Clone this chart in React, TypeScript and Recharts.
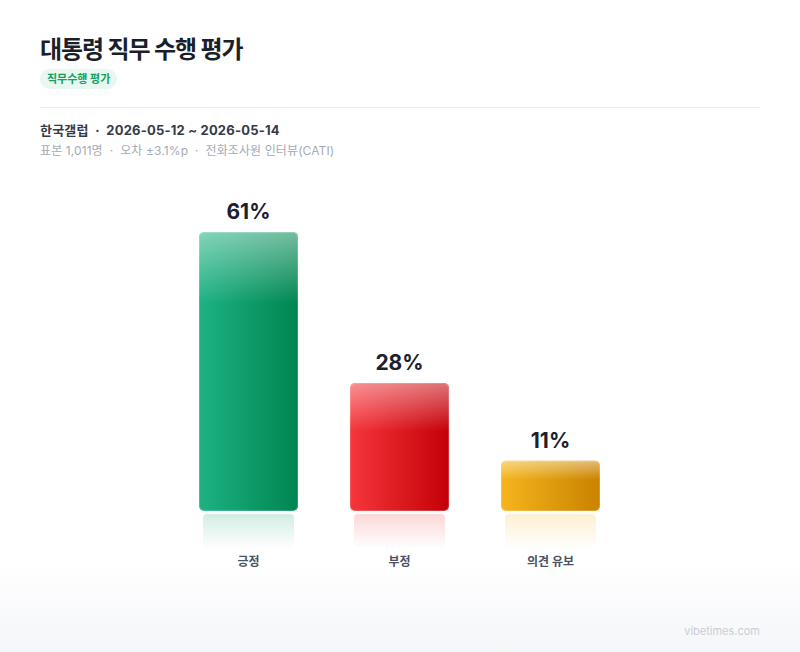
import React from 'react';
import { BarChart, Bar, XAxis, YAxis, LabelList } from 'recharts';

const categories = ['긍정', '부정', '의견 유보'];
const values = [61, 28, 11];
const valueLabels = ['61%', '28%', '11%'];

const title = '대통령 직무 수행 평가';
const badge = '직무수행 평가';
const metaLine1 = '한국갤럽  ·  2026-05-12 ~ 2026-05-14';
const metaLine2 = '표본 1,011명  ·  오차 ±3.1%p  ·  전화조사원 인터뷰(CATI)';
const footer = 'vibetimes.com';

const palettes = [
  { left: '#1db283', right: '#008550', refl: '#1aa774' },
  { left: '#f5363b', right: '#c30007', refl: '#ef3a3e' },
  { left: '#f6b51d', right: '#c98300', refl: '#f4b31c' },
];

const data = categories.map((c, i) => ({ name: c, value: values[i], label: valueLabels[i] }));

const FONT = "Inter, 'Noto Sans CJK KR', 'Noto Sans', sans-serif";

const BarShape = (props: any) => {
  const { x, y, width, height, index } = props;
  const p = palettes[index % palettes.length];
  const r = 5;
  const glossH = Math.min(height * 0.38, 72);
  const reflTop = y + height + 3;
  const reflH = 35;
  return (
    <g>
      <defs>
        <linearGradient id={`hg${index}`} x1="0" y1="0" x2="1" y2="0">
          <stop offset="0%" stopColor={p.left} />
          <stop offset="100%" stopColor={p.right} />
        </linearGradient>
        <linearGradient id={`gl${index}`} x1="0" y1="0" x2="0" y2="1">
          <stop offset="0%" stopColor="#ffffff" stopOpacity={0.45} />
          <stop offset="100%" stopColor="#ffffff" stopOpacity={0} />
        </linearGradient>
        <linearGradient id={`rf${index}`} x1="0" y1="0" x2="0" y2="1">
          <stop offset="0%" stopColor={p.refl} stopOpacity={0.2} />
          <stop offset="100%" stopColor={p.refl} stopOpacity={0} />
        </linearGradient>
      </defs>
      <rect x={x} y={y} width={width} height={height} rx={r} ry={r} fill={`url(#hg${index})`} />
      <rect x={x} y={y} width={width} height={glossH} rx={r} ry={r} fill={`url(#gl${index})`} />
      <rect x={x + 0.5} y={y + 0.5} width={width - 1} height={height - 1} rx={r} ry={r} fill="none" stroke="#ffffff" strokeOpacity={0.18} />
      <rect x={x + 4} y={reflTop} width={width - 8} height={reflH} rx={4} ry={4} fill={`url(#rf${index})`} />
    </g>
  );
};

const ValueLabel = (props: any) => {
  const { x, y, width, index } = props;
  return (
    <text x={x + width / 2} y={y - 13} textAnchor="middle" fontFamily={FONT} fontSize={21} fontWeight={700} fill="#1c2130">
      {valueLabels[index]}
    </text>
  );
};

const CatTick = (props: any) => {
  const { x, y, payload } = props;
  return (
    <text x={x} y={y + 47} textAnchor="middle" fontFamily={FONT} fontSize={12} fontWeight={600} fill="#4b5261">
      {payload.value}
    </text>
  );
};

export default function App() {
  return (
    <div
      style={{
        position: 'absolute',
        left: 0,
        top: 0,
        width: 800,
        height: 652,
        background: 'linear-gradient(to bottom, #ffffff 0%, #ffffff 86%, #f5f6f9 100%)',
        fontFamily: FONT,
        overflow: 'hidden',
      }}
    >
      <div style={{ position: 'absolute', left: 40, top: 34, fontSize: 24, fontWeight: 700, color: '#1a1f2c', letterSpacing: -1.1, lineHeight: '32px', whiteSpace: 'nowrap' }}>
        {title}
      </div>
      <div
        style={{
          position: 'absolute',
          left: 40,
          top: 69,
          height: 20,
          padding: '0 7px',
          borderRadius: 10,
          background: '#e8f7ef',
          color: '#10a060',
          fontSize: 11,
          fontWeight: 700,
          lineHeight: '20px',
          whiteSpace: 'nowrap',
        }}
      >
        {badge}
      </div>
      <div style={{ position: 'absolute', left: 40, top: 107, width: 720, height: 1, background: '#ececef' }} />
      <div style={{ position: 'absolute', left: 40, top: 121, fontSize: 13, fontWeight: 700, color: '#353b47', lineHeight: '18px', whiteSpace: 'pre', letterSpacing: 0.2 }}>
        {metaLine1}
      </div>
      <div style={{ position: 'absolute', left: 40, top: 142, fontSize: 12, fontWeight: 400, color: '#a4aab4', lineHeight: '18px', whiteSpace: 'pre', letterSpacing: 0.1 }}>
        {metaLine2}
      </div>
      <div style={{ position: 'absolute', right: 40, top: 624, fontSize: 11, color: '#c9cdd5', lineHeight: '14px' }}>{footer}</div>
      <div style={{ position: 'absolute', left: 0, top: 0 }}>
        <BarChart width={800} height={652} data={data} margin={{ top: 191, right: 174, bottom: 111, left: 173 }} barCategoryGap={26}>
          <XAxis dataKey="name" axisLine={false} tickLine={false} height={30} tick={<CatTick />} interval={0} />
          <YAxis hide domain={[0, 70]} />
          <Bar dataKey="value" isAnimationActive={false} shape={<BarShape />}>
            <LabelList dataKey="label" content={<ValueLabel />} />
          </Bar>
        </BarChart>
      </div>
    </div>
  );
}
